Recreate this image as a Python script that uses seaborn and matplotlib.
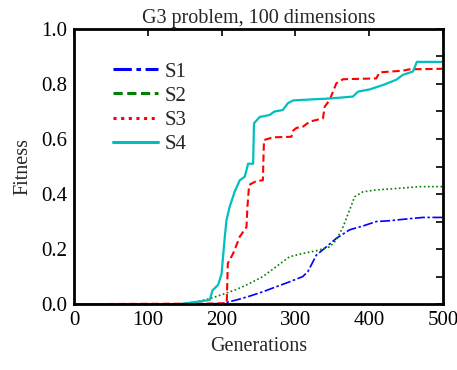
import matplotlib
matplotlib.use("Agg")
import matplotlib.pyplot as plt
from matplotlib.lines import Line2D
import seaborn as sns
import pandas as pd
import numpy as np

# ---- data ----
s1_gen = [0, 150, 200, 220, 238, 256, 274, 292, 310, 317, 328.5, 342, 355.6, 373.6, 391.7, 409.7, 427.8, 445.8, 473, 500]
s1_fit = [0, 0, 0.002, 0.015, 0.029, 0.045, 0.063, 0.081, 0.10, 0.118, 0.178, 0.208, 0.239, 0.27, 0.284, 0.30, 0.303, 0.308, 0.315, 0.315]

s2_gen = [0, 143, 166, 184, 202, 220, 238, 256, 274, 292, 310, 328.5, 346.6, 355.6, 364.6, 373.6, 380.4, 391.7, 409.7, 436.8, 468.4, 500]
s2_fit = [0, 0, 0.008, 0.02, 0.036, 0.053, 0.075, 0.10, 0.136, 0.172, 0.184, 0.194, 0.208, 0.233, 0.28, 0.342, 0.39, 0.408, 0.415, 0.42, 0.427, 0.427]

s3_gen = [0, 180, 207, 208.5, 215.7, 224.7, 233.8, 235, 237.4, 247, 256, 257.5, 270, 294.7, 297, 301.4, 310.5, 319.5, 337.5, 339.8, 346.6, 355.6, 364.6, 409.7, 414.3, 445.8, 454.9, 500]
s3_fit = [0, 0.002, 0.003, 0.148, 0.184, 0.245, 0.28, 0.35, 0.433, 0.447, 0.45, 0.596, 0.606, 0.608, 0.63, 0.64, 0.645, 0.663, 0.675, 0.717, 0.742, 0.802, 0.817, 0.82, 0.842, 0.848, 0.853, 0.855]

s4_gen = [0, 143.5, 170.6, 184, 187.7, 195.4, 200, 204.4, 206.7, 211, 218, 224.7, 231.5, 236, 242.8, 244, 251.8, 265, 272, 283, 290, 297, 310, 346.6, 378, 385, 400.7, 418.8, 436.8, 445.8, 459.4, 464.8, 500]
s4_fit = [0, 0, 0.01, 0.015, 0.05, 0.07, 0.11, 0.245, 0.305, 0.354, 0.41, 0.45, 0.463, 0.51, 0.51, 0.657, 0.68, 0.687, 0.70, 0.705, 0.73, 0.74, 0.742, 0.747, 0.754, 0.772, 0.78, 0.796, 0.815, 0.833, 0.845, 0.88, 0.88]

series_names = ["S1", "S2", "S3", "S4"]
title = "G3 problem, 100 dimensions"
x_label = "Generations"
y_label = "Fitness"

sns.set_theme(style="white")
plt.rcParams['font.family'] = ['Liberation Serif', 'DejaVu Serif']

frames = []
for name, g, f in zip(series_names, [s1_gen, s2_gen, s3_gen, s4_gen], [s1_fit, s2_fit, s3_fit, s4_fit]):
    frames.append(pd.DataFrame({"gen": g, "fit": f, "series": name}))
df = pd.concat(frames, ignore_index=True)

colors = {"S1": "#0000ff", "S2": "#008000", "S3": "#ff0000", "S4": "#00bfbf"}
plot_styles = {"S1": (0, (6, 1.5, 1.5, 1.5)), "S2": (0, (1, 1.5)), "S3": (0, (3.5, 1.8)), "S4": "-"}
widths = {"S1": 1.2, "S2": 1.2, "S3": 1.5, "S4": 1.6}

fig = plt.figure(figsize=(4.57, 3.70), dpi=100)
ax = fig.add_axes([0.162, 0.178, 0.807, 0.744])

for name in series_names:
    sub = df[df["series"] == name]
    sns.lineplot(data=sub, x="gen", y="fit", ax=ax, color=colors[name],
                 linestyle=plot_styles[name], linewidth=widths[name],
                 legend=False, estimator=None, sort=False)

legend_styles = {"S1": (0, (6, 1.5, 1.5, 1.5)), "S2": (0, (3, 1.5)), "S3": (0, (1, 1.5)), "S4": "-"}
handles = [Line2D([0], [0], color=colors[n], linestyle=legend_styles[n], linewidth=2.2) for n in series_names]
leg = ax.legend(handles, series_names, loc="upper left", bbox_to_anchor=(0.082, 0.91),
                frameon=False, fontsize=15, handlelength=2.2, handletextpad=0.3,
                labelspacing=0.22, borderaxespad=0)

ax.set_xlim(0, 500)
ax.set_ylim(0, 1.0)
ax.set_xticks(np.arange(0, 501, 100))
ax.set_yticks(np.arange(0, 1.01, 0.2))
ax.set_yticklabels([f"{v:.1f}" for v in np.arange(0, 1.01, 0.2)])
ax.set_yticks(np.arange(0, 1.01, 0.1), minor=True)
ax.tick_params(axis="both", which="both", direction="in", top=True, right=True,
               length=5, width=1.2, labelsize=15, colors="black", pad=5)
for sp in ax.spines.values():
    sp.set_linewidth(2)
    sp.set_color("black")

ax.set_title(title, fontsize=14.5, pad=4)
ax.set_xlabel(x_label, fontsize=14.5, labelpad=5)
ax.set_ylabel(y_label, fontsize=14.5, labelpad=6)

fig.savefig("out.png", dpi=100)
